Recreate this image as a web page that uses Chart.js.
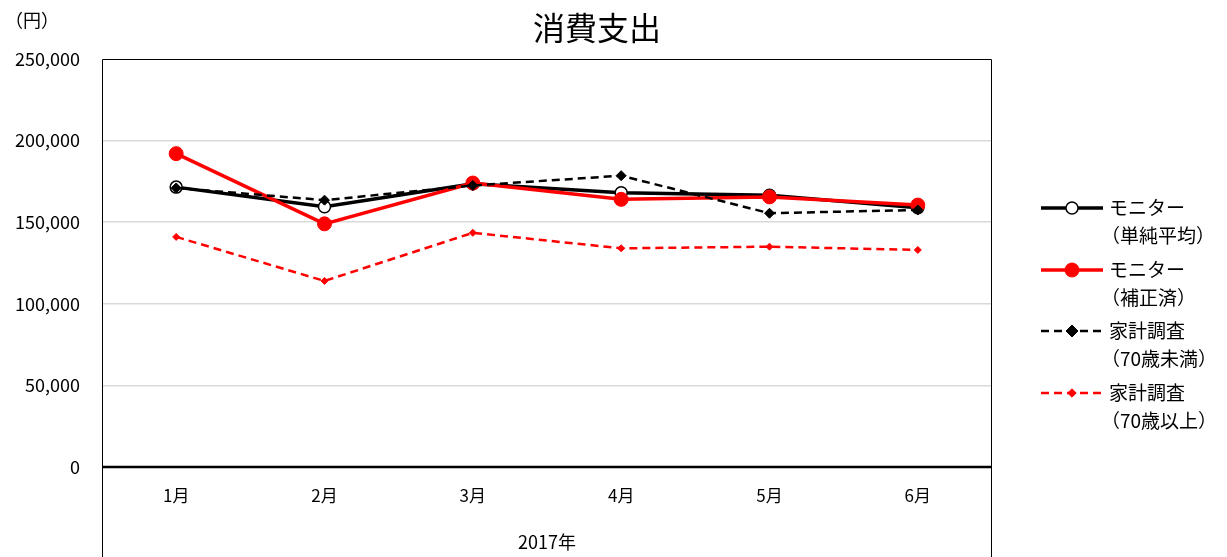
<!DOCTYPE html>
<html>
<head>
<meta charset="utf-8">
<script src="https://cdn.jsdelivr.net/npm/chart.js@4.4.0/dist/chart.umd.min.js"></script>
<style>
  html, body { margin: 0; padding: 0; background: #fff; }
  .wrap { width: 1227px; height: 557px; }
</style>
</head>
<body>
<div class="wrap"><canvas id="lineChart" width="1227" height="557"></canvas></div>
<script>
const months = ['1月', '2月', '3月', '4月', '5月', '6月'];
const monitorAvg = [171500, 159500, 173500, 168000, 166500, 158800];
const monitorAdj = [192000, 149000, 174000, 164000, 165500, 160500];
const kakeiUnder70 = [171000, 163500, 172500, 178500, 155500, 157500];
const kakei70plus = [141000, 114000, 143500, 134000, 135000, 133000];
const legendNames = [
    ['モニター', '（単純平均）'],
    ['モニター', '（補正済）'],
    ['家計調査', '（70歳未満）'],
    ['家計調査', '（70歳以上）']
];
const yTicks = [0, 50000, 100000, 150000, 200000, 250000];

const FONT = '"Noto Sans CJK JP", "Noto Sans", sans-serif';

// frame, title, unit label and the side legend
const decorPlugin = {
    id: 'decor',
    beforeDatasetsDraw(chart) {
        const ctx = chart.ctx;
        const a = chart.chartArea;
        ctx.save();
        ctx.strokeStyle = '#000';
        ctx.lineWidth = 1;
        ctx.beginPath();
        ctx.moveTo(a.left + 0.5, chart.height);
        ctx.lineTo(a.left + 0.5, a.top + 0.5);
        ctx.lineTo(a.right - 0.5, a.top + 0.5);
        ctx.lineTo(a.right - 0.5, chart.height);
        ctx.stroke();
        ctx.lineWidth = 2.5;
        ctx.beginPath();
        ctx.moveTo(a.left, a.bottom);
        ctx.lineTo(a.right, a.bottom);
        ctx.stroke();
        ctx.restore();
    },
    afterDraw(chart) {
        const ctx = chart.ctx;
        ctx.save();
        ctx.fillStyle = '#000';
        ctx.textBaseline = 'middle';
        ctx.textAlign = 'center';
        ctx.font = '32px ' + FONT;
        ctx.fillText('消費支出', 597, 28);
        ctx.textAlign = 'left';
        ctx.font = '18px ' + FONT;
        ctx.fillText('（円）', 5, 20);

        const rows = [208, 270, 331, 393];
        chart.data.datasets.forEach((ds, i) => {
            const y = rows[i];
            ctx.save();
            ctx.strokeStyle = ds.borderColor;
            ctx.lineWidth = ds.borderWidth;
            ctx.setLineDash(ds.borderDash || []);
            ctx.beginPath();
            ctx.moveTo(1041, y);
            ctx.lineTo(1103, y);
            ctx.stroke();
            ctx.restore();
            ctx.fillStyle = ds.pointBackgroundColor;
            ctx.strokeStyle = ds.pointBorderColor;
            ctx.lineWidth = ds.pointBorderWidth;
            ctx.beginPath();
            if (ds.pointStyle === 'circle') {
                ctx.arc(1072, y, ds.pointRadius, 0, Math.PI * 2);
            } else {
                const r = ds.pointRadius * 1.2;
                ctx.moveTo(1072, y - r);
                ctx.lineTo(1072 + r, y);
                ctx.lineTo(1072, y + r);
                ctx.lineTo(1072 - r, y);
                ctx.closePath();
            }
            ctx.fill();
            ctx.stroke();
            ctx.fillStyle = '#000';
            ctx.font = '19px ' + FONT;
            ctx.fillText(legendNames[i][0], 1109, y);
            ctx.fillText(legendNames[i][1], 1101, y + 28);
        });
        ctx.restore();
    }
};

var ctx = document.getElementById('lineChart').getContext('2d');
var myChart = new Chart(ctx, {
    type: 'line',
    data: {
        labels: months,
        datasets: [{
            label: legendNames[0].join(''),
            data: monitorAvg,
            borderColor: '#000',
            borderWidth: 3.5,
            pointStyle: 'circle',
            pointRadius: 6,
            pointBorderWidth: 1.5,
            pointBackgroundColor: '#fff',
            pointBorderColor: '#000',
            order: 4
        }, {
            label: legendNames[1].join(''),
            data: monitorAdj,
            borderColor: '#ff0000',
            borderWidth: 3.5,
            pointStyle: 'circle',
            pointRadius: 7,
            pointBorderWidth: 1,
            pointBackgroundColor: '#ff0000',
            pointBorderColor: '#ff0000',
            order: 3
        }, {
            label: legendNames[2].join(''),
            data: kakeiUnder70,
            borderColor: '#000',
            borderWidth: 2.5,
            borderDash: [8, 5],
            pointStyle: 'rectRot',
            pointRadius: 5,
            pointBorderWidth: 1,
            pointBackgroundColor: '#000',
            pointBorderColor: '#000',
            order: 2
        }, {
            label: legendNames[3].join(''),
            data: kakei70plus,
            borderColor: '#ff0000',
            borderWidth: 2.5,
            borderDash: [8, 5],
            pointStyle: 'rectRot',
            pointRadius: 3.5,
            pointBorderWidth: 1,
            pointBackgroundColor: '#ff0000',
            pointBorderColor: '#ff0000',
            order: 1
        }]
    },
    options: {
        responsive: false,
        animation: false,
        layout: { padding: { top: 59, right: 235, left: 0, bottom: 0 } },
        plugins: {
            legend: { display: false },
            title: { display: false },
            tooltip: { enabled: false }
        },
        scales: {
            x: {
                offset: true,
                grid: { display: false, drawTicks: false },
                border: { display: false },
                ticks: { color: '#000', padding: 18, font: { family: FONT, size: 17 } },
                title: {
                    display: true,
                    text: '2017年',
                    color: '#000',
                    font: { family: FONT, size: 18 },
                    padding: { top: 12 }
                },
                afterFit(scale) { scale.height = 90; }
            },
            y: {
                min: 0,
                max: 250000,
                afterBuildTicks(scale) { scale.ticks = yTicks.map(v => ({ value: v })); },
                grid: {
                    drawTicks: false,
                    color: (c) => (c.tick.value === 0 || c.tick.value === 250000) ? 'rgba(0,0,0,0)' : '#d9d9d9',
                    lineWidth: 1.5
                },
                border: { display: false },
                ticks: {
                    color: '#000',
                    padding: 22,
                    font: { family: FONT, size: 18 },
                    callback: (v) => v.toLocaleString('en-US')
                },
                afterFit(scale) { scale.width = 102; }
            }
        }
    },
    plugins: [decorPlugin]
});
</script>
</body>
</html>
